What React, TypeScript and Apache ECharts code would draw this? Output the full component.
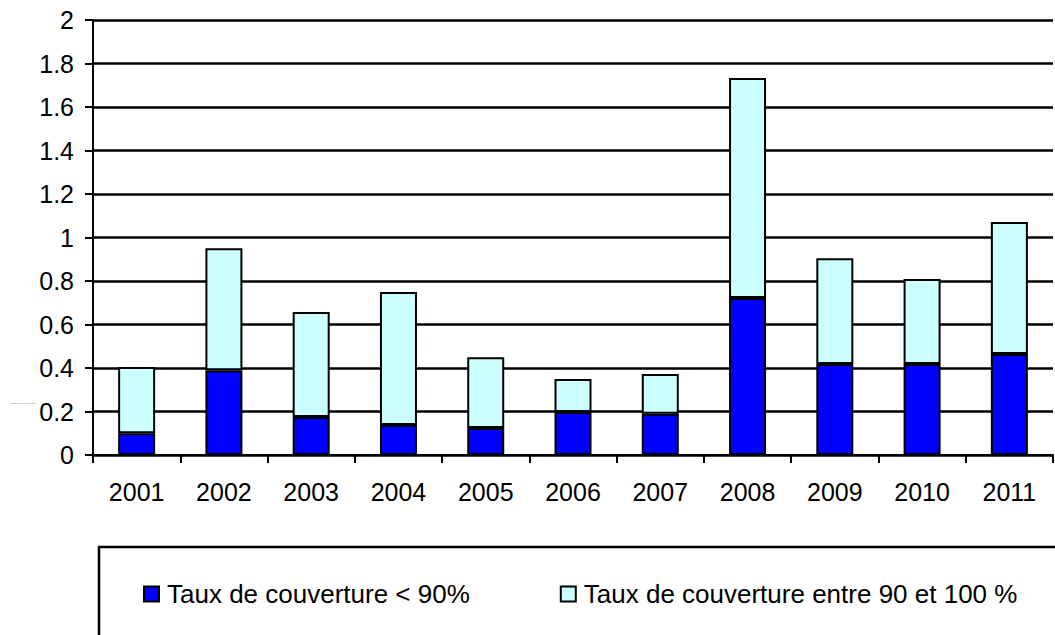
import React, { useEffect, useRef } from "react";
import * as echarts from "echarts";

const years = ["2001", "2002", "2003", "2004", "2005", "2006", "2007", "2008", "2009", "2010", "2011"];
const below90 = [0.1, 0.39, 0.175, 0.138, 0.124, 0.198, 0.19, 0.722, 0.418, 0.418, 0.464];
const between90and100 = [0.305, 0.56, 0.482, 0.612, 0.326, 0.152, 0.182, 1.011, 0.487, 0.391, 0.607];
const seriesNames = ["Taux de couverture < 90%", "Taux de couverture entre 90 et 100 %"];
const yAxisName = "Montant (en milliards d'euros)";

export default function App() {
  const ref = useRef<HTMLDivElement>(null);
  useEffect(() => {
    if (!ref.current) return;
    const chart = echarts.init(ref.current, null, { renderer: "svg" });
    const font = "'Liberation Sans', Arial, sans-serif";
    chart.setOption({
      animation: false,
      backgroundColor: "#ffffff",
      grid: { left: 93, top: 20, right: 2, bottom: 180, containLabel: false },
      xAxis: {
        type: "category",
        data: years,
        axisLine: { lineStyle: { color: "#000", width: 2 } },
        axisTick: { show: true, length: 8, lineStyle: { color: "#000", width: 2 } },
        axisLabel: { color: "#000", fontSize: 25, fontFamily: font, margin: 24 },
      },
      yAxis: {
        type: "value",
        min: 0,
        max: 2,
        interval: 0.2,
        axisLine: { show: true, lineStyle: { color: "#000", width: 2 } },
        axisTick: { show: true, length: 8, lineStyle: { color: "#000", width: 2 } },
        axisLabel: {
          color: "#000",
          fontSize: 25,
          fontFamily: font,
          margin: 19,
          padding: [14, 0, 0, 0],
          formatter: (v: number) => String(Math.round(v * 10) / 10),
        },
        splitLine: { show: true, lineStyle: { color: "#000", width: 2.5 } },
      },
      legend: {
        left: 143,
        top: 581,
        padding: 0,
        icon: "rect",
        itemWidth: 15,
        itemHeight: 15,
        itemGap: 90,
        textStyle: { color: "#000", fontSize: 26, fontFamily: font, padding: [0, 0, 0, 3] },
        data: seriesNames,
      },
      graphic: [
        {
          type: "rect",
          shape: { x: 99, y: 547, width: 1000, height: 100 },
          style: { fill: "none", stroke: "#000", lineWidth: 2.5 },
          z: 0,
        },
        {
          type: "text",
          x: 10,
          y: 402,
          style: { text: yAxisName, fontSize: 2, fill: "#777", fontFamily: font },
        },
      ],
      series: [
        {
          name: seriesNames[0],
          type: "bar",
          stack: "total",
          data: below90,
          barWidth: 37,
          itemStyle: { color: "#0000ff", borderColor: "#000", borderWidth: 2 },
        },
        {
          name: seriesNames[1],
          type: "bar",
          stack: "total",
          data: between90and100,
          barWidth: 37,
          itemStyle: { color: "#ccffff", borderColor: "#000", borderWidth: 2 },
        },
      ],
    });
    return () => chart.dispose();
  }, []);
  return (
    <div
      ref={ref}
      style={{ position: "fixed", left: 0, top: 0, width: 1055, height: 635 }}
    />
  );
}
